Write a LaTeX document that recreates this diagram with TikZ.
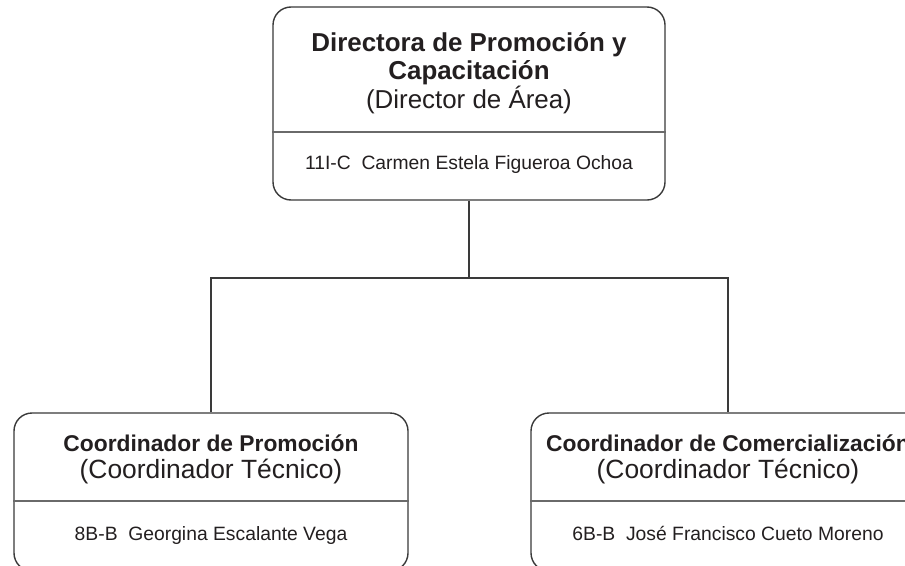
\documentclass[tikz,border=0pt]{standalone}
\usepackage{fontspec}
\setmainfont{Liberation Sans}
\definecolor{linecol}{HTML}{3A3A3A}
\definecolor{divcol}{HTML}{6A6A6A}
\definecolor{txtcol}{HTML}{231F20}
\begin{document}
\begin{tikzpicture}[x=1pt,y=-1pt,
  box/.style={draw=linecol, line width=1.4pt, rounded corners=18pt, inner sep=0pt, fill=white},
  divider/.style={draw=divcol, line width=1.1pt},
  conn/.style={draw=linecol, line width=1.4pt},
  txt/.style={anchor=base, inner sep=0pt, text=txtcol},
  tbold/.style={txt, font=\fontsize{25.9}{28}\selectfont\bfseries},
  treg/.style={txt, font=\fontsize{25.9}{28}\selectfont},
  bbold/.style={txt, font=\fontsize{22.8}{26}\selectfont\bfseries},
  breg/.style={txt, font=\fontsize{26.4}{28}\selectfont},
  tname/.style={txt, font=\fontsize{19.3}{22}\selectfont}]
\useasboundingbox (0,0) rectangle (905,565);
\clip (0,0) rectangle (905,565);
\fill[white] (0,0) rectangle (905,565);

% connectors
\coordinate (j) at (469,278);

% boxes
\node[box, minimum width=392pt, minimum height=193pt] (top) at (469,103.5) {};
\node[box, minimum width=394pt, minimum height=158pt] (left) at (211,492) {};
\node[box, minimum width=394pt, minimum height=158pt] (right) at (728,492) {};

\draw[conn] (top.south) -- (j);
\draw[conn] (j) -| (left.north);
\draw[conn] (j) -| (right.north);

% dividers
\draw[divider] (top.west |- 0,132) -- (top.east |- 0,132);
\draw[divider] (left.west |- 0,501) -- (left.east |- 0,501);
\draw[divider] (right.west |- 0,501) -- (right.east |- 0,501);

% top texts
\node[tbold] (t1) at (469,51) {Directora de Promoción y};
\node[tbold] (t2) at (469,79) {Capacitación};
\node[treg] (t3) at (469,108) {(Director de Área)};
\node[tname] (t4) at (469,169.5) {11I-C\ \ Carmen Estela Figueroa Ochoa};

% left texts
\node[bbold] (l1) at (211,451) {Coordinador de Promoción};
\node[breg] (l2) at (211,478) {(Coordinador Técnico)};
\node[tname] (l3) at (211,540) {8B-B\ \ Georgina Escalante Vega};

% right texts
\node[bbold] (r1) at (728,451) {Coordinador de Comercialización};
\node[breg] (r2) at (728,478) {(Coordinador Técnico)};
\node[tname] (r3) at (728,540) {6B-B\ \ José Francisco Cueto Moreno};
\end{tikzpicture}
\end{document}
